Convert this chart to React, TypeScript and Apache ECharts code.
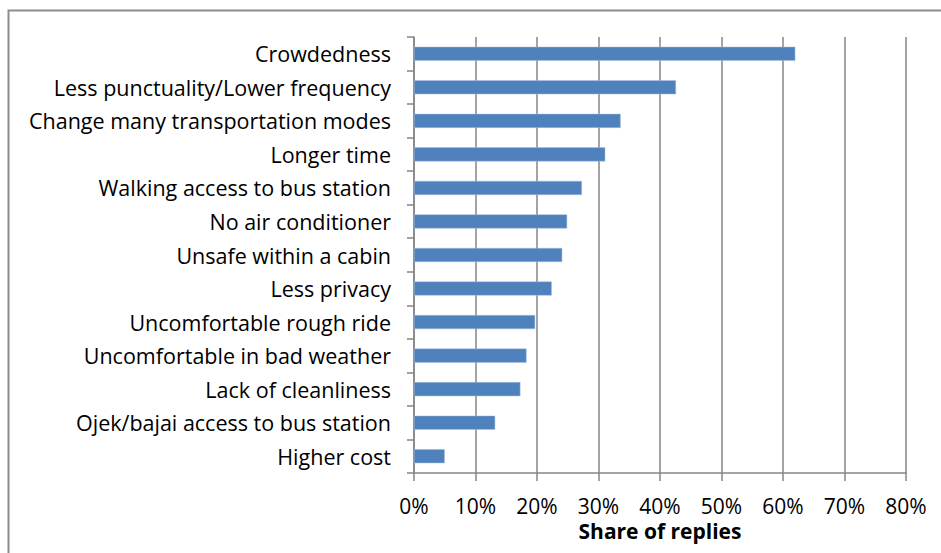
import React, { useEffect, useRef } from "react";
import * as echarts from "echarts";

const categories = [
  "Crowdedness",
  "Less punctuality/Lower frequency",
  "Change many transportation modes",
  "Longer time",
  "Walking access to bus station",
  "No air conditioner",
  "Unsafe within a cabin",
  "Less privacy",
  "Uncomfortable rough ride",
  "Uncomfortable in bad weather",
  "Lack of cleanliness",
  "Ojek/bajai access to bus station",
  "Higher cost",
];
const shares = [62.0, 42.6, 33.6, 31.1, 27.3, 24.9, 24.1, 22.4, 19.7, 18.3, 17.3, 13.2, 5.0];
const axisTitle = "Share of replies";

const FONT = "'Open Sans', sans-serif";

export default function App() {
  const ref = useRef<HTMLDivElement>(null);
  useEffect(() => {
    const chart = echarts.init(ref.current!, null, { renderer: "svg" });
    chart.setOption({
      animation: false,
      backgroundColor: "#ffffff",
      textStyle: { fontFamily: FONT },
      graphic: [
        {
          type: "rect",
          shape: { x: 8.5, y: 10.5, width: 1000, height: 700 },
          style: { fill: "none", stroke: "#8c8c8c", lineWidth: 2 },
          silent: true,
          z: -1,
        },
      ],
      grid: { left: 414, right: 35, top: 37, bottom: 80, containLabel: false },
      xAxis: {
        type: "value",
        min: 0,
        max: 80,
        interval: 10,
        name: axisTitle,
        nameLocation: "middle",
        nameGap: 45,
        nameTextStyle: { fontFamily: FONT, fontSize: 21, fontWeight: "bold", color: "#000" },
        axisLine: { show: true, lineStyle: { color: "#868686", width: 1.5 } },
        axisTick: { show: true, length: 8, lineStyle: { color: "#868686", width: 1.5 } },
        axisLabel: {
          formatter: (v: number) => v + "%",
          fontFamily: FONT,
          fontSize: 21,
          color: "#000",
          margin: 22,
        },
        splitLine: { show: true, lineStyle: { color: "#868686", width: 1.5 } },
      },
      yAxis: {
        type: "category",
        data: categories,
        inverse: true,
        axisLine: { show: true, lineStyle: { color: "#868686", width: 1.5 } },
        axisTick: { show: true, length: 7, lineStyle: { color: "#868686", width: 1.5 } },
        axisLabel: { fontFamily: FONT, fontSize: 21.5, color: "#000", margin: 23 },
        splitLine: { show: false },
      },
      series: [
        {
          type: "bar",
          data: shares,
          barCategoryGap: "58%",
          itemStyle: { color: "#4F81BD", borderColor: "#a9c0de", borderWidth: 0.5 },
        },
      ],
    });
    return () => chart.dispose();
  }, []);
  return (
    <div
      ref={ref}
      style={{ position: "absolute", left: 0, top: 0, width: 941, height: 553 }}
    />
  );
}
